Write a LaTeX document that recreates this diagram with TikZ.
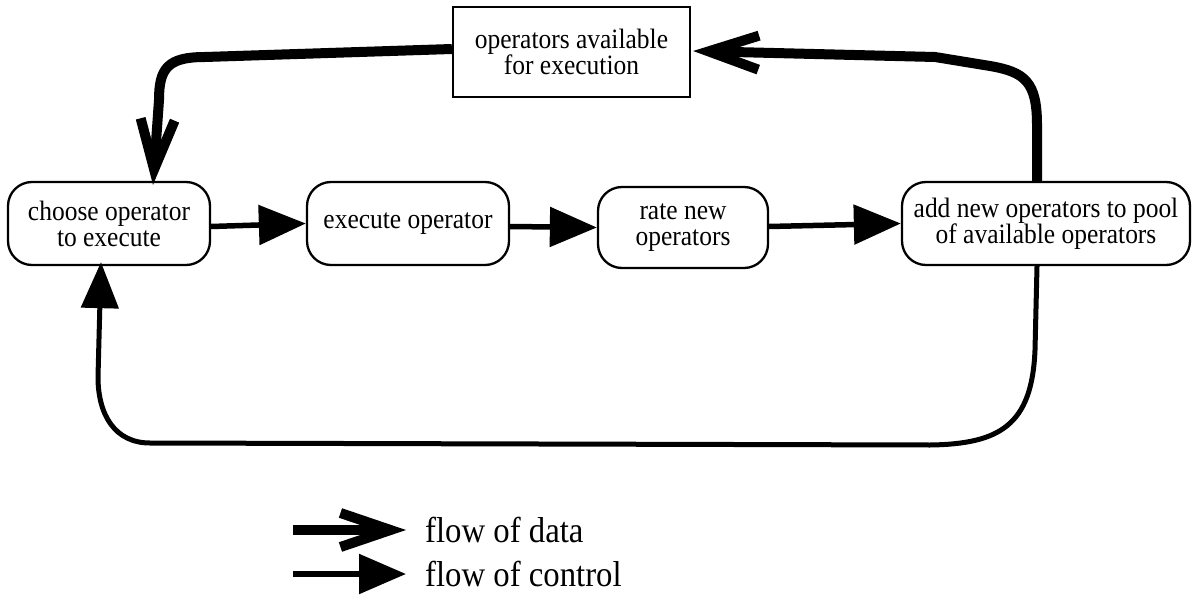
\documentclass[tikz,border=0pt]{standalone}
\usepackage{fontspec}
\setmainfont{Liberation Serif}[FakeStretch=0.91]
\usetikzlibrary{arrows.meta}
\begin{document}
\begin{tikzpicture}[x=1pt,y=-1pt,
  txt/.style={font=\fontsize{28}{26}\selectfont},
  proc/.style={txt, draw, line width=2.3pt, rounded corners=24pt, align=center, inner sep=0pt},
  store/.style={txt, draw, line width=2.3pt, align=center, inner sep=0pt},
  ctrl/.style={line width=5.5pt, -{Triangle[length=47pt,width=39pt]}},
  data/.style={line width=10pt, -{Straight Barb[length=50pt,width=34pt,sharp]}},
  lbl/.style={font=\fontsize{36}{36}\selectfont, anchor=west, inner sep=0pt}
]
\useasboundingbox (0,0) rectangle (1193,596);

% process boxes
\node[proc, minimum width=202pt, minimum height=83pt] (choose) at (109,223.5) {choose operator\\to execute};
\node[proc, minimum width=202pt, minimum height=83pt] (execute) at (408,223.5) {execute operator};
\node[proc, minimum width=170pt, minimum height=81pt] (rate) at (683,227.5) {rate new\\operators};
\node[proc, minimum width=288pt, minimum height=83pt] (add) at (1046,223.5) {add new operators to pool\\of available operators};

% operator pool
\node[store, minimum width=237pt, minimum height=90pt] (pool) at (571.5,52) {operators available\\for execution};

% control flow along the row
\draw[ctrl] (choose.east) ++(0,3) -- (execute.west);
\draw[ctrl] (execute.east) ++(0,3) -- (rate.west);
\draw[ctrl] (rate.east) ++(0,-1) -- (add.west);

% control flow back to the start
\coordinate (b1) at ([xshift=-9pt]add.south);
\coordinate (b2) at ([shift={(-8pt,4pt)}]choose.south);
\draw[line width=5pt, -{Triangle[length=46pt,width=37pt]}]
  (b1) -- (1035,350) .. controls (1032,425) and (1000,444) .. (930,445)
  -- (150,443) .. controls (115,443) and (98,415) .. (98,377) -- (b2);

% data flow into and out of the pool
\coordinate (r1) at ([xshift=-9pt]add.north);
\draw[data] (r1) -- (1037,125) .. controls (1037,82) and (1025,72) .. (990,66)
  -- (935,57) -- ([xshift=2pt,yshift=1pt]pool.east);
\coordinate (l1) at ([shift={(44pt,-4pt)}]choose.north);
\draw[data] ([yshift=3pt]pool.west) -- (205,57) .. controls (168,57) and (159,68) .. (159,100) -- (l1);

% legend
\coordinate (d0) at (293,530);
\coordinate (d1) at (406,530);
\coordinate (c0) at (293,574);
\coordinate (c1) at (406,574);
\draw[data] (d0) -- (d1);
\draw[ctrl] (c0) -- (c1);
\node[lbl] (ldata) at (425,530) {flow of data};
\node[lbl] (lctrl) at (425,574) {flow of control};
\end{tikzpicture}
\end{document}
